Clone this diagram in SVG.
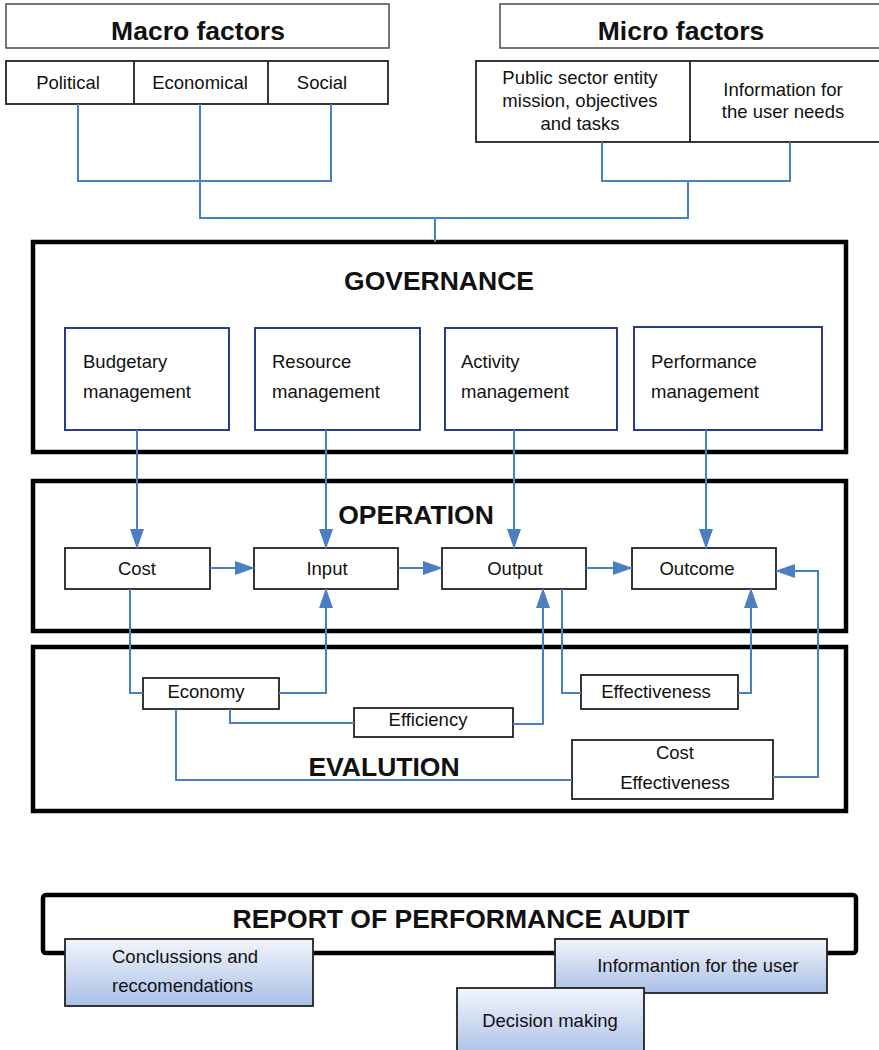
<svg xmlns="http://www.w3.org/2000/svg" width="879" height="1050" viewBox="0 0 879 1050">
  <defs>
    <style>
      text { font-family: "Liberation Sans", Arial, sans-serif; fill: #111; }
      .title { font-size: 26.5px; font-weight: bold; text-anchor: middle; }
      .lbl { font-size: 18.5px; text-anchor: middle; }
      .lbl-l { font-size: 18.5px; }
      .box { fill: #fff; stroke: #222; stroke-width: 1.8; }
      .hbox { fill: #fff; stroke: #555; stroke-width: 1.6; }
      .frame { fill: #fff; stroke: #000; stroke-width: 4.5; }
      .mgmt { fill: #fff; stroke: #2a3a8c; stroke-width: 2; }
      .rep { fill: url(#blueGrad); stroke: #222; stroke-width: 1.8; }
      .link { fill: none; stroke: #4a7fc4; stroke-width: 2; }
    </style>
    <linearGradient id="blueGrad" x1="0" y1="0" x2="0" y2="1">
      <stop offset="0" stop-color="#f2f5fc"/>
      <stop offset="1" stop-color="#a9bfe6"/>
    </linearGradient>
    <marker id="arrow" viewBox="0 0 20 14" refX="19" refY="7" markerWidth="20" markerHeight="14" markerUnits="userSpaceOnUse" orient="auto">
      <path d="M0,0 L20,7 L0,14 Z" fill="#4a7fc4"/>
    </marker>
  </defs>

  <!-- Macro factors -->
  <g id="macro-factors">
    <rect class="hbox" x="6" y="4" width="383" height="44"/>
    <text class="title" x="198" y="40">Macro factors</text>
  </g>
  <g id="macro-items">
    <rect class="box" x="6" y="61" width="382" height="43"/>
    <line x1="134" y1="61" x2="134" y2="104" stroke="#222" stroke-width="1.8"/>
    <line x1="268" y1="61" x2="268" y2="104" stroke="#222" stroke-width="1.8"/>
    <text class="lbl" x="68" y="89">Political</text>
    <text class="lbl" x="200" y="89">Economical</text>
    <text class="lbl" x="322" y="89">Social</text>
  </g>

  <!-- Micro factors -->
  <g id="micro-factors">
    <rect class="hbox" x="500" y="4" width="390" height="44"/>
    <text class="title" x="681" y="40">Micro factors</text>
  </g>
  <g id="micro-items">
    <rect class="box" x="476" y="61" width="414" height="81"/>
    <line x1="690" y1="61" x2="690" y2="142" stroke="#222" stroke-width="1.8"/>
    <text class="lbl" x="580" y="84">Public sector entity</text>
    <text class="lbl" x="580" y="107">mission, objectives</text>
    <text class="lbl" x="580" y="130">and tasks</text>
    <text class="lbl" x="783" y="96">Information for</text>
    <text class="lbl" x="783" y="118">the user needs</text>
  </g>

  <!-- Governance -->
  <g id="governance">
    <rect class="frame" x="33" y="242" width="813" height="210"/>
    <text class="title" x="439" y="290">GOVERNANCE</text>
  </g>
  <g id="budgetary-management">
    <rect class="mgmt" x="65" y="328" width="164" height="102"/>
    <text class="lbl-l" x="83" y="368">Budgetary</text>
    <text class="lbl-l" x="83" y="398">management</text>
  </g>
  <g id="resource-management">
    <rect class="mgmt" x="255" y="328" width="165" height="102"/>
    <text class="lbl-l" x="272" y="368">Resource</text>
    <text class="lbl-l" x="272" y="398">management</text>
  </g>
  <g id="activity-management">
    <rect class="mgmt" x="445" y="328" width="172" height="102"/>
    <text class="lbl-l" x="461" y="368">Activity</text>
    <text class="lbl-l" x="461" y="398">management</text>
  </g>
  <g id="performance-management">
    <rect class="mgmt" x="634" y="327" width="188" height="103"/>
    <text class="lbl-l" x="651" y="368">Performance</text>
    <text class="lbl-l" x="651" y="398">management</text>
  </g>

  <!-- Operation -->
  <g id="operation">
    <rect class="frame" x="33" y="481" width="813" height="150"/>
    <text class="title" x="416" y="524">OPERATION</text>
  </g>
  <g id="cost">
    <rect class="box" x="65" y="548" width="145" height="41"/>
    <text class="lbl" x="137" y="575">Cost</text>
  </g>
  <g id="input">
    <rect class="box" x="254" y="548" width="144" height="41"/>
    <text class="lbl" x="327" y="575">Input</text>
  </g>
  <g id="output">
    <rect class="box" x="442" y="548" width="144" height="41"/>
    <text class="lbl" x="515" y="575">Output</text>
  </g>
  <g id="outcome">
    <rect class="box" x="632" y="548" width="144" height="41"/>
    <text class="lbl" x="697" y="575">Outcome</text>
  </g>

  <!-- Evaluation -->
  <g id="evaluation">
    <rect class="frame" x="33" y="647" width="813" height="164"/>
    <text class="title" x="384" y="776">EVALUTION</text>
  </g>
  <g id="economy">
    <rect class="box" x="143" y="678" width="136" height="31"/>
    <text class="lbl" x="206" y="698">Economy</text>
  </g>
  <g id="efficiency">
    <rect class="box" x="354" y="708" width="159" height="29"/>
    <text class="lbl" x="428" y="726">Efficiency</text>
  </g>
  <g id="effectiveness">
    <rect class="box" x="581" y="675" width="157" height="34"/>
    <text class="lbl" x="656" y="698">Effectiveness</text>
  </g>
  <g id="cost-effectiveness">
    <rect class="box" x="572" y="740" width="201" height="59"/>
    <text class="lbl" x="675" y="759">Cost</text>
    <text class="lbl" x="675" y="789">Effectiveness</text>
  </g>

  <!-- Connectors -->
  <g id="connectors">
    <!-- factors into governance -->
    <polyline class="link" points="78,104 78,181 331,181 331,104"/>
    <polyline class="link" points="602,142 602,181 790,181 790,142"/>
    <polyline class="link" points="200,104 200,218 688,218 688,181"/>
    <line class="link" x1="435" y1="218" x2="435" y2="242"/>
    <!-- governance into operation -->
    <line class="link" x1="137" y1="430" x2="137" y2="548" marker-end="url(#arrow)"/>
    <line class="link" x1="326" y1="430" x2="326" y2="548" marker-end="url(#arrow)"/>
    <line class="link" x1="514" y1="430" x2="514" y2="548" marker-end="url(#arrow)"/>
    <line class="link" x1="706" y1="430" x2="706" y2="548" marker-end="url(#arrow)"/>
    <!-- operation chain -->
    <line class="link" x1="210" y1="568" x2="254" y2="568" marker-end="url(#arrow)"/>
    <line class="link" x1="398" y1="568" x2="442" y2="568" marker-end="url(#arrow)"/>
    <line class="link" x1="586" y1="568" x2="632" y2="568" marker-end="url(#arrow)"/>
    <!-- evaluation links -->
    <polyline class="link" points="130,589 130,693 143,693"/>
    <polyline class="link" points="279,693 326,693 326,589" marker-end="url(#arrow)"/>
    <polyline class="link" points="230,709 230,723 354,723"/>
    <polyline class="link" points="513,724 543,724 543,589" marker-end="url(#arrow)"/>
    <polyline class="link" points="562,589 562,693 581,693"/>
    <polyline class="link" points="738,693 751,693 751,589" marker-end="url(#arrow)"/>
    <polyline class="link" points="176,709 176,780 572,780"/>
    <polyline class="link" points="773,777 818,777 818,571 776,571" marker-end="url(#arrow)"/>
  </g>

  <!-- Report -->
  <g id="report">
    <rect class="frame" x="43" y="895" width="813" height="58" rx="3"/>
    <text class="title" x="461" y="928">REPORT OF PERFORMANCE AUDIT</text>
  </g>
  <g id="conclusions">
    <rect class="rep" x="65" y="939" width="248" height="67"/>
    <text class="lbl-l" x="112" y="963">Conclussions and</text>
    <text class="lbl-l" x="112" y="992">reccomendations</text>
  </g>
  <g id="information-for-user">
    <rect class="rep" x="555" y="939" width="272" height="54"/>
    <text class="lbl" x="698" y="972">Informantion for the user</text>
  </g>
  <g id="decision-making">
    <rect class="rep" x="457" y="988" width="187" height="70"/>
    <text class="lbl" x="550" y="1027">Decision making</text>
  </g>
</svg>
